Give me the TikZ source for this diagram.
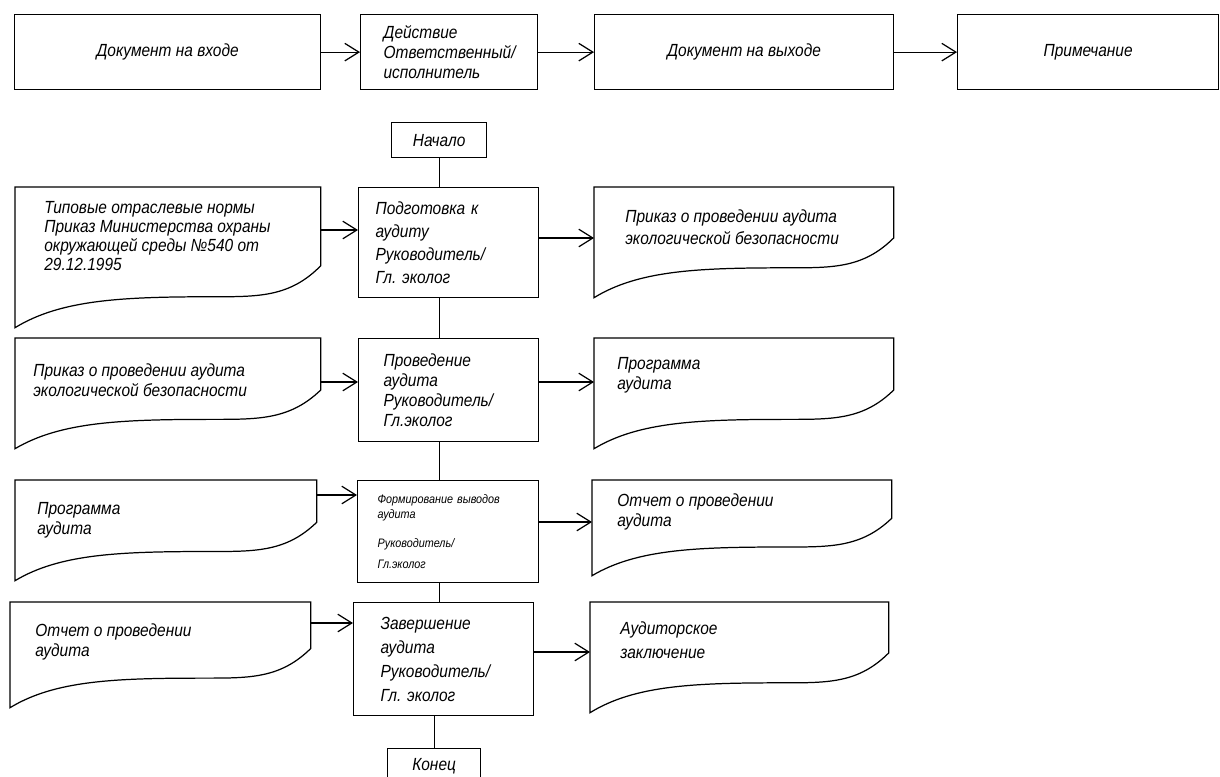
\documentclass[tikz,border=0pt]{standalone}
\usepackage{fontspec}
\setmainfont{Liberation Sans}[FakeStretch=0.88]
\usetikzlibrary{arrows.meta,calc}

\tikzset{
  line/.style={line width=0.7pt},
  arr/.style={line, -{Straight Barb[length=8pt,width=10pt]}},
  every node/.style={font=\itshape\fontsize{10}{11.3}\selectfont},
  hbox/.style={draw, line, anchor=north west, align=center},
  pbox/.style={draw, line, anchor=north west, align=left, inner ysep=0pt},
  frame/.style={anchor=north west, inner sep=0pt},
  dtext/.style={anchor=west, align=left, inner sep=0pt}
}

% document outline with wavy bottom, #2 = height of the right side
\newcommand{\wavedoc}[2]{%
  \draw[line] let \p1=(#1.north west), \p2=(#1.south east),
      \n1={\x2-\x1}, \n2={\y2-\y1}, \n3={(#2+1)/2} in
    (\p1) -- (\x2,\y1) -- (\x2,{\y1+#2*\n2})
    .. controls ({\x1+0.9*\n1},{\y1+\n3*\n2}) and ({\x1+0.8*\n1},{\y1+\n3*\n2}) ..
    ({\x1+0.65*\n1},{\y1+\n3*\n2})
    .. controls ({\x1+0.35*\n1},{\y1+\n3*\n2}) and ({\x1+0.15*\n1},{\y1+(\n3+0.02)*\n2}) ..
    (\x1,\y2) -- cycle;
}

\begin{document}
\begin{tikzpicture}
\useasboundingbox (0,0) rectangle (24.4,-15.52);

% header
\path
(0.28,-0.28) node[hbox, minimum width=6.12cm, minimum height=1.5cm] (h1) {Документ на входе}
(7.2,-0.28) node[pbox, text width=2.62cm, inner xsep=0.46cm, minimum height=1.5cm] (h2)
  {Действие\\Ответственный/\\исполнитель}
(11.88,-0.28) node[hbox, minimum width=5.98cm, minimum height=1.5cm] (h3) {Документ на выходе}
(19.14,-0.28) node[hbox, minimum width=5.22cm, minimum height=1.5cm] (h4) {Примечание};

\draw[arr] (h1) -- (h2);
\draw[arr] (h2) -- (h3);
\draw[arr] (h3) -- (h4);

% steps
\path
(7.82,-2.44) node[hbox, minimum width=1.9cm, minimum height=0.7cm] (start) {Начало}
(7.16,-3.74) node[pbox, text width=2.92cm, inner xsep=0.34cm, minimum height=2.2cm,
  font=\itshape\fontsize{10}{13}\selectfont] (b1)
  {Подготовка к\\аудиту\\Руководитель/\\Гл.\ эколог}
(7.16,-6.76) node[pbox, text width=2.6cm, inner xsep=0.5cm, minimum height=2.06cm] (b2)
  {Проведение\\аудита\\Руководитель/\\Гл.эколог}
(7.14,-9.6) node[pbox, text width=2.82cm, inner xsep=0.4cm, minimum height=2.04cm,
  font=\itshape\fontsize{7}{8.5}\selectfont] (b3)
  {Формирование выводов\\аудита\\[8pt]Руководитель/\\[3pt]Гл.эколог}
(7.06,-12.04) node[pbox, text width=2.52cm, inner xsep=0.54cm, minimum height=2.26cm,
  font=\itshape\fontsize{10}{13.6}\selectfont] (b4)
  {Завершение\\аудита\\Руководитель/\\Гл.\ эколог}
(7.74,-14.96) node[hbox, minimum width=1.86cm, minimum height=0.7cm] (fin) {Конец};

\draw[line] (start.south) -- (start.south |- b1.north);
\draw[line] (b1.south -| start) -- (b2.north -| start);
\draw[line] (b2.south -| start) -- (b3.north -| start);
\draw[line] (b3.south -| start) -- (b4.north -| start);
\draw[line] (b4.south -| fin) -- (fin.north);

% documents
\path
(0.3,-3.74) node[frame, minimum width=6.1cm, minimum height=2.8cm] (in1) {}
(11.88,-3.74) node[frame, minimum width=5.98cm, minimum height=2.2cm] (out1) {}
(0.3,-6.76) node[frame, minimum width=6.1cm, minimum height=2.2cm] (in2) {}
(11.88,-6.76) node[frame, minimum width=5.98cm, minimum height=2.2cm] (out2) {}
(0.3,-9.6) node[frame, minimum width=6.02cm, minimum height=2.0cm] (in3) {}
(11.84,-9.6) node[frame, minimum width=5.98cm, minimum height=1.9cm] (out3) {}
(0.2,-12.04) node[frame, minimum width=6.0cm, minimum height=2.1cm] (in4) {}
(11.8,-12.04) node[frame, minimum width=5.96cm, minimum height=2.2cm] (out4) {};

\wavedoc{in1}{0.56}
\wavedoc{out1}{0.46}
\wavedoc{in2}{0.47}
\wavedoc{out2}{0.47}
\wavedoc{in3}{0.42}
\wavedoc{out3}{0.4}
\wavedoc{in4}{0.44}
\wavedoc{out4}{0.46}

\path
(0.88,-4.72) node[dtext, font=\itshape\fontsize{10}{10.8}\selectfont] (in1t)
  {Типовые отраслевые нормы\\Приказ Министерства охраны\\окружающей среды №540 от\\29.12.1995}
(12.5,-4.54) node[dtext, font=\itshape\fontsize{10}{12.5}\selectfont] (out1t)
  {Приказ о проведении аудита\\экологической безопасности}
(0.66,-7.6) node[dtext] (in2t) {Приказ о проведении аудита\\экологической безопасности}
(12.34,-7.5) node[dtext] (out2t) {Программа\\аудита}
(0.74,-10.4) node[dtext] (in3t) {Программа\\аудита}
(12.34,-10.24) node[dtext] (out3t) {Отчет о проведении\\аудита}
(0.7,-12.84) node[dtext] (in4t) {Отчет о проведении\\аудита}
(12.4,-12.8) node[dtext, font=\itshape\fontsize{10}{14}\selectfont] (out4t) {Аудиторское\\заключение};

\draw[arr] ([yshift=-0.86cm]in1.north east) -- ([yshift=-0.86cm]b1.north west);
\draw[arr] ([yshift=-1.02cm]b1.north east) -- ([yshift=-1.02cm]out1.north west);
\draw[arr] ([yshift=-0.88cm]in2.north east) -- ([yshift=-0.88cm]b2.north west);
\draw[arr] ([yshift=-0.88cm]b2.north east) -- ([yshift=-0.88cm]out2.north west);
\draw[arr] ([yshift=-0.3cm]in3.north east) -- ([yshift=-0.3cm]b3.north west);
\draw[arr] ([yshift=-0.84cm]b3.north east) -- ([yshift=-0.84cm]out3.north west);
\draw[arr] ([yshift=-0.42cm]in4.north east) -- ([yshift=-0.42cm]b4.north west);
\draw[arr] ([yshift=-1.0cm]b4.north east) -- ([yshift=-1.0cm]out4.north west);
\end{tikzpicture}
\end{document}
